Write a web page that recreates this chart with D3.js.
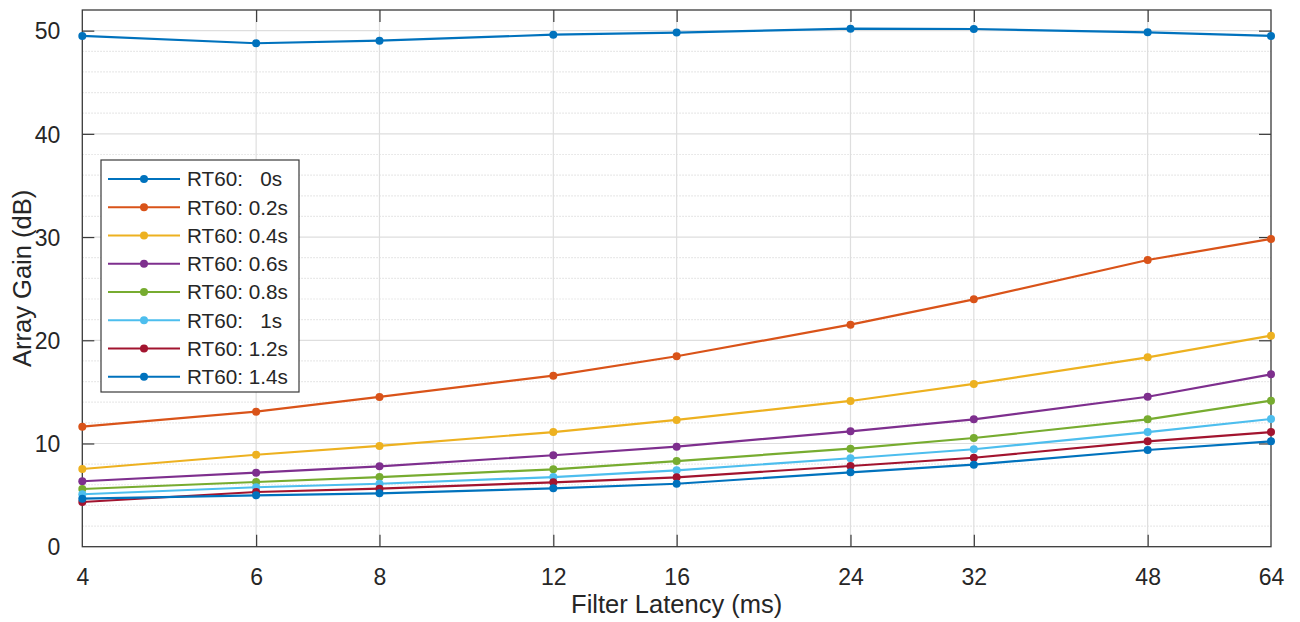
<!DOCTYPE html>
<html>
<head>
<meta charset="utf-8">
<script src="https://cdn.jsdelivr.net/npm/d3@7"></script>
<style>
  html, body { margin: 0; padding: 0; background: #fff; }
  svg { display: block; font-family: "Liberation Sans", Arial, Helvetica, sans-serif; }
</style>
</head>
<body>
<svg id="chart" width="1300" height="622"></svg>
<script>
// ---- data ----
const latencies = [4, 6, 8, 12, 16, 24, 32, 48, 64];
const xTickLabels = ["4", "6", "8", "12", "16", "24", "32", "48", "64"];
const yTicks = [0, 10, 20, 30, 40, 50];
const seriesNames = ["RT60:   0s", "RT60: 0.2s", "RT60: 0.4s", "RT60: 0.6s", "RT60: 0.8s", "RT60:   1s", "RT60: 1.2s", "RT60: 1.4s"];
const seriesColors = ["#0072BD", "#D95319", "#EDB120", "#7E2F8E", "#77AC30", "#4DBEEE", "#A2142F", "#0072BD"];
const rt0   = [49.49, 48.78, 49.03, 49.61, 49.81, 50.19, 50.16, 49.84, 49.49];
const rt02  = [11.63, 13.08, 14.51, 16.57, 18.45, 21.51, 23.97, 27.78, 29.82];
const rt04  = [7.53, 8.91, 9.76, 11.11, 12.28, 14.12, 15.77, 18.35, 20.45];
const rt06  = [6.34, 7.17, 7.79, 8.86, 9.69, 11.18, 12.34, 14.53, 16.70];
const rt08  = [5.59, 6.27, 6.75, 7.50, 8.30, 9.50, 10.53, 12.34, 14.15];
const rt10  = [5.08, 5.76, 6.10, 6.75, 7.40, 8.57, 9.44, 11.11, 12.37];
const rt12  = [4.33, 5.30, 5.62, 6.24, 6.72, 7.82, 8.62, 10.21, 11.11];
const rt14  = [4.65, 4.98, 5.17, 5.66, 6.10, 7.21, 7.95, 9.37, 10.21];
const allSeries = [rt0, rt02, rt04, rt06, rt08, rt10, rt12, rt14];

// ---- layout ----
const svg = d3.select("#chart");
const L = 82.3, R = 1271, T = 10, B = 546.7;
const axisColor = "#3a3a3a", textColor = "#262626";

const x = d3.scaleLog().base(2).domain([4, 64]).range([L, R]);
const y = d3.scaleLinear().domain([0, 52]).range([B, T]);

// minor horizontal grid (dotted)
const minor = d3.range(2, 52, 2).filter(v => v % 10 !== 0);
svg.append("g").selectAll("line").data(minor).join("line")
  .attr("x1", L).attr("x2", R)
  .attr("y1", d => y(d)).attr("y2", d => y(d))
  .attr("stroke", "#e3e3e3").attr("stroke-width", 1.2)
  .attr("stroke-dasharray", "1.5,1.5");

// major grid
svg.append("g").selectAll("line").data(yTicks.filter(v => v > 0)).join("line")
  .attr("x1", L).attr("x2", R)
  .attr("y1", d => y(d)).attr("y2", d => y(d))
  .attr("stroke", "#dedede").attr("stroke-width", 1.2);
svg.append("g").selectAll("line").data(latencies.slice(1, -1)).join("line")
  .attr("x1", d => x(d)).attr("x2", d => x(d))
  .attr("y1", T).attr("y2", B)
  .attr("stroke", "#dedede").attr("stroke-width", 1.2);

// axes with inward ticks (box on)
const tickLen = 12;
const xAxisB = d3.axisBottom(x).tickValues(latencies).tickFormat((d, i) => xTickLabels[i])
  .tickSizeInner(-tickLen).tickSizeOuter(0).tickPadding(22);
const gxb = svg.append("g").attr("transform", `translate(0,${B})`).call(xAxisB);
const xAxisT = d3.axisTop(x).tickValues(latencies).tickFormat("").tickSizeInner(-tickLen).tickSizeOuter(0);
const gxt = svg.append("g").attr("transform", `translate(0,${T})`).call(xAxisT);
const yAxisL = d3.axisLeft(y).tickValues(yTicks).tickFormat(d3.format("d"))
  .tickSizeInner(-tickLen).tickSizeOuter(0).tickPadding(22);
const gyl = svg.append("g").attr("transform", `translate(${L},0)`).call(yAxisL);
const yAxisR = d3.axisRight(y).tickValues(yTicks).tickFormat("").tickSizeInner(-tickLen).tickSizeOuter(0);
const gyr = svg.append("g").attr("transform", `translate(${R},0)`).call(yAxisR);

[gxb, gxt, gyl, gyr].forEach(g => {
  g.select(".domain").remove();
  g.selectAll(".tick line").attr("stroke", axisColor).attr("stroke-width", 1.2);
  g.selectAll(".tick text").attr("fill", textColor).style("font-size", "23px")
    .style("font-family", '"Liberation Sans", Arial, sans-serif');
});
gyl.selectAll(".tick text").attr("dy", "0.36em");
gxb.selectAll(".tick text").attr("dy", "0.71em");
// hide tick marks at the very corners where they coincide with the box
gxb.selectAll(".tick line").filter(d => d === 4 || d === 64).remove();
gxt.selectAll(".tick line").filter(d => d === 4 || d === 64).remove();
gyl.selectAll(".tick line").filter(d => d === 0).remove();
gyr.selectAll(".tick line").filter(d => d === 0).remove();

// box
svg.append("rect").attr("x", L).attr("y", T).attr("width", R - L).attr("height", B - T)
  .attr("fill", "none").attr("stroke", axisColor).attr("stroke-width", 1.3);

// series
const line = d3.line().x((d, i) => x(latencies[i])).y(d => y(d));
allSeries.forEach((vals, si) => {
  const g = svg.append("g");
  g.append("path").datum(vals).attr("d", line)
    .attr("fill", "none").attr("stroke", seriesColors[si]).attr("stroke-width", 2.2)
    .attr("stroke-linejoin", "round");
  g.selectAll("circle").data(vals).join("circle")
    .attr("cx", (d, i) => x(latencies[i])).attr("cy", d => y(d)).attr("r", 4)
    .attr("fill", seriesColors[si]);
});

// axis labels
svg.append("text").attr("x", (L + R) / 2).attr("y", 613)
  .attr("text-anchor", "middle").attr("fill", textColor).style("font-size", "25.5px")
  .text("Filter Latency (ms)");
svg.append("text").attr("transform", `translate(31,${(T + B) / 2}) rotate(-90)`)
  .attr("text-anchor", "middle").attr("fill", textColor).style("font-size", "25.5px")
  .text("Array Gain (dB)");

// legend
const lg = svg.append("g");
lg.append("rect").attr("x", 101).attr("y", 160).attr("width", 198).attr("height", 232)
  .attr("fill", "#fff").attr("stroke", axisColor).attr("stroke-width", 1.2);
seriesNames.forEach((name, i) => {
  const cy = 179 + i * 28.25;
  lg.append("line").attr("x1", 108).attr("x2", 180).attr("y1", cy).attr("y2", cy)
    .attr("stroke", seriesColors[i]).attr("stroke-width", 2.2);
  lg.append("circle").attr("cx", 144).attr("cy", cy).attr("r", 4).attr("fill", seriesColors[i]);
  lg.append("text").attr("x", 187).attr("y", cy).attr("dy", "0.36em")
    .attr("fill", textColor).style("font-size", "20.7px").style("white-space", "pre")
    .text(name);
});
</script>
</body>
</html>
